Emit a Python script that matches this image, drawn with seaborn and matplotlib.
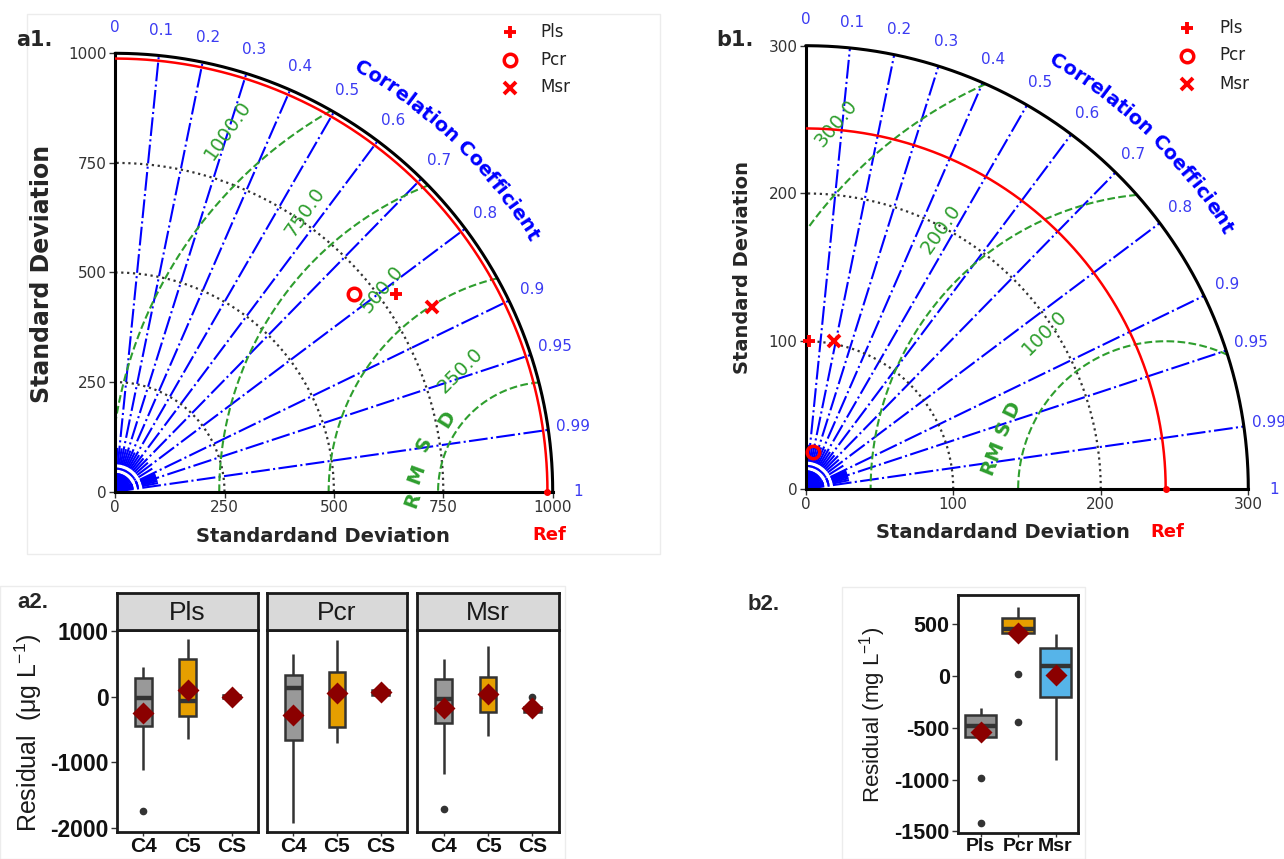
import numpy as np
import pandas as pd
import matplotlib
matplotlib.use("Agg")
import matplotlib.pyplot as plt
import seaborn as sns
from matplotlib.textpath import text_to_path
from matplotlib.font_manager import FontProperties
from matplotlib.patches import Rectangle

sns.set_theme(style="white")
plt.rcParams["font.family"] = ["DejaVu Sans"]
plt.rcParams["mathtext.default"] = "regular"

W, H, DPI = 1284, 859, 100

# ---------------- data ----------------
models = ["Pls", "Pcr", "Msr"]
model_markers = ["+", "o", "x"]

corr_ticks = [0.1, 0.2, 0.3, 0.4, 0.5, 0.6, 0.7, 0.8, 0.9, 0.95, 0.99]
corr_labels_vals = [0, 0.1, 0.2, 0.3, 0.4, 0.5, 0.6, 0.7, 0.8, 0.9, 0.95, 0.99, 1]
corr_labels_txt = ["0", "0.1", "0.2", "0.3", "0.4", "0.5", "0.6", "0.7", "0.8", "0.9", "0.95", "0.99", "1"]
corr_minor = [0.05, 0.15, 0.25, 0.35, 0.45, 0.55, 0.65, 0.75, 0.85, 0.91, 0.92, 0.93, 0.94, 0.96, 0.97, 0.98]

# a1 Taylor diagram
a1_max = 1000
a1_ref = 988
a1_std_ticks = [0, 250, 500, 750, 1000]
a1_std_arcs = [250, 500, 750]
a1_rmsd_levels = [250, 500, 750, 1000]
a1_rmsd_text = ["250.0", "500.0", "750.0", "1000.0"]
a1_rmsd_x = [788, 610, 433, 258]
a1_rmsd_y = [277, 461, 637, 824]
a1_rmsd_rot = [45, 50, 55, 55]
a1_std = [785, 707, 839]
a1_corr = [0.819, 0.771, 0.864]

# b1 Taylor diagram
b1_max = 300
b1_ref = 244
b1_std_ticks = [0, 100, 200, 300]
b1_std_arcs = [100, 200]
b1_rmsd_levels = [100, 200, 300]
b1_rmsd_text = ["100.0", "200.0", "300.0"]
b1_rmsd_x = [162, 91.5, 20.7]
b1_rmsd_y = [106, 176, 247.7]
b1_rmsd_rot = [45, 55, 50]
b1_std = [100, 25.5, 102]
b1_corr = [0.02, 0.196, 0.19]

# a2 residual boxplots (µg/L): per panel, per group C4, C5, CS
a2_panels = ["Pls", "Pcr", "Msr"]
a2_groups = ["C4", "C5", "CS"]
a2_colors = ["#999999", "#E69F00", "#56B4E9"]
a2_q1 = {"Pls": [-442, -294, -25], "Pcr": [-660, -457, 20], "Msr": [-406, -239, -228]}
a2_med = {"Pls": [-25, -61, 0], "Pcr": [127, 40, 60], "Msr": [-36, 0, -188]}
a2_q3 = {"Pls": [279, 569, 25], "Pcr": [330, 371, 95], "Msr": [264, 305, -152]}
a2_wlo = {"Pls": [-1117, -650, -25], "Pcr": [-1929, -700, 20], "Msr": [-1178, -599, -228]}
a2_whi = {"Pls": [457, 873, 25], "Pcr": [650, 863, 95], "Msr": [569, 772, -152]}
a2_out = {"Pls": [[-1751], [], []], "Pcr": [[], [], []], "Msr": [[-1716], [], [0]]}
a2_mean = {"Pls": [-244, 102, -10], "Pcr": [-279, 50, 65], "Msr": [-178, 41, -178]}

# b2 residual boxplots (mg/L)
b2_groups = ["Pls", "Pcr", "Msr"]
b2_colors = ["#8f8f8f", "#E69F00", "#56B4E9"]
b2_q1 = [-585, 418, -199]
b2_med = [-482, 450, 96]
b2_q3 = [-376, 556, 267]
b2_wlo = [-585, 418, -810]
b2_whi = [-312, 669, 405]
b2_out = [[-981, -1421], [16, -447], []]
b2_mean = [-537, 412, 10]

GREEN = "#2e9e2e"
CBLUE = "#3b3bf2"

fig = plt.figure(figsize=(W / DPI, H / DPI), dpi=DPI)
fig.patch.set_facecolor("white")


def add_ax(x0, y0, x1, y1):
    return fig.add_axes([x0 / W, 1 - y1 / H, (x1 - x0) / W, (y1 - y0) / H])


# overlay in pixel coordinates for free text
ov = fig.add_axes([0, 0, 1, 1])
ov.set_xlim(0, W)
ov.set_ylim(H, 0)
ov.axis("off")
ov.set_zorder(10)
for (x0, y0, x1, y1) in [(27, 14, 660, 554), (0, 586, 565, 859), (842, 587, 1085, 859)]:
    ov.add_patch(Rectangle((x0, y0), x1 - x0, y1 - y0, fill=False, ec="#ececec", lw=1))


def arc_text(ax, text, smax, px_per_unit, r_frac, center_deg, fs, color):
    prop = FontProperties(family="DejaVu Sans", weight="bold", size=fs)
    widths = []
    for ch in text:
        if ch == " ":
            w = (text_to_path.get_text_width_height_descent("a a", prop, ismath=False)[0]
                 - text_to_path.get_text_width_height_descent("aa", prop, ismath=False)[0])
        else:
            w = text_to_path.get_text_width_height_descent(ch, prop, ismath=False)[0]
        widths.append(w * DPI / 72)
    R_px = r_frac * smax * px_per_unit
    total = sum(widths)
    start = np.deg2rad(center_deg) + total / R_px / 2
    cum = 0
    for ch, w in zip(text, widths):
        a = start - (cum + w / 2) / R_px
        cum += w
        if ch == " ":
            continue
        ax.text(r_frac * smax * np.cos(a), r_frac * smax * np.sin(a), ch,
                rotation=np.rad2deg(a) - 90, rotation_mode="anchor",
                ha="center", va="baseline", fontproperties=prop, color=color,
                clip_on=False)


def taylor(box, smax, ref, std_ticks, std_arcs, levels, lbl_txt, lbl_x, lbl_y, lbl_rot,
           stds, corrs, rmsd_letters, letter_fs):
    ax = add_ax(*box)
    px_per_unit = (box[2] - box[0]) / smax
    ax.set_xlim(0, smax)
    ax.set_ylim(0, smax)
    ax.set_facecolor("none")
    for s in ["top", "right"]:
        ax.spines[s].set_visible(False)
    for s in ["left", "bottom"]:
        ax.spines[s].set_color("black")
        ax.spines[s].set_linewidth(2.2)
    ax.set_xticks(std_ticks)
    ax.set_yticks(std_ticks)
    ax.set_xticklabels([str(t) for t in std_ticks])
    ax.set_yticklabels([str(t) for t in std_ticks])
    ax.tick_params(direction="out", length=4, width=1, colors="#333333", labelsize=11,
                   pad=2, left=True, bottom=True)
    th = np.linspace(0, np.pi / 2, 500)
    # correlation lines
    for c in corr_ticks:
        t = np.arccos(c)
        ax.plot([0, smax * np.cos(t)], [0, smax * np.sin(t)], color="blue", lw=1.5,
                dashes=[9, 1.6, 1, 1.6], zorder=2)
    for c in corr_minor:
        t = np.arccos(c)
        ax.plot([0, 0.1 * smax * np.cos(t)], [0, 0.1 * smax * np.sin(t)], color="blue",
                lw=1.5, dashes=[9, 1.6, 1, 1.6], zorder=2)
    # std dotted arcs
    for s in std_arcs:
        ax.plot(s * np.cos(th), s * np.sin(th), color="#333333", ls=":", lw=1.6, zorder=2)
    # RMSD arcs
    for L in levels:
        phi = np.linspace(0, np.pi, 3000)
        x = ref + L * np.cos(phi)
        y = L * np.sin(phi)
        m = (x ** 2 + y ** 2 <= smax ** 2) & (x >= 0)
        ax.plot(x[m], y[m], color=GREEN, ls="--", lw=1.5, zorder=2)
    for t_, x_, y_, r_ in zip(lbl_txt, lbl_x, lbl_y, lbl_rot):
        ax.text(x_, y_, t_, color=GREEN, fontsize=14, rotation=r_, ha="center", va="center",
                zorder=3)
    for ch, x_, y_, r_ in rmsd_letters:
        ax.text(x_, y_, ch, color=GREEN, fontsize=letter_fs, fontweight="bold", rotation=r_,
                ha="center", va="center", clip_on=False, zorder=3)
    # ref and outer arcs
    ax.plot(ref * np.cos(th), ref * np.sin(th), color="red", lw=1.8, zorder=4)
    ax.plot(smax * np.cos(th), smax * np.sin(th), color="black", lw=2.2, zorder=4,
            clip_on=False)
    ax.plot([ref], [0], "o", color="red", ms=4, zorder=5, clip_on=False)
    # correlation labels
    for v, s in zip(corr_labels_vals, corr_labels_txt):
        t = np.arccos(v)
        ax.text(1.058 * smax * np.cos(t), 1.058 * smax * np.sin(t), s, color=CBLUE,
                fontsize=11, ha="center", va="center", clip_on=False)
    arc_text(ax, "Correlation Coefficient", smax, px_per_unit, 1.105, 45.8, 14, "blue")
    # model points
    for mk, s, c in zip(model_markers, stds, corrs):
        x, y = s * c, s * np.sqrt(1 - c ** 2)
        if mk == "o":
            ax.plot(x, y, "o", mfc="none", mec="red", mew=2.5, ms=9, zorder=6, clip_on=False)
        else:
            ax.plot(x, y, mk, color="red", mew=2.8, ms=8, zorder=6, clip_on=False)
    return ax


a1 = taylor((115.1, 53.3, 552.7, 491.7), a1_max, a1_ref, a1_std_ticks, a1_std_arcs,
            a1_rmsd_levels, a1_rmsd_text, a1_rmsd_x, a1_rmsd_y, a1_rmsd_rot,
            a1_std, a1_corr,
            [("R", 681, -19, 70), ("M", 689, 40, 70), ("S", 706, 109, 62), ("D", 758, 166, 58)], 14)
b1 = taylor((805.7, 45.7, 1248.3, 489.0), b1_max, b1_ref, b1_std_ticks, b1_std_arcs,
            b1_rmsd_levels, b1_rmsd_text, b1_rmsd_x, b1_rmsd_y, b1_rmsd_rot,
            b1_std, b1_corr,
            [("R", 124, 15, 68), ("M", 128, 26, 68), ("S", 134, 41, 66), ("D", 139.5, 54, 64)], 14)

# free texts for Taylor diagrams
ov.text(16, 40, "a1.", fontsize=15, fontweight="bold", ha="left", va="center")
ov.text(716, 40, "b1.", fontsize=15, fontweight="bold", ha="left", va="center")
ov.text(42, 274, "Standard Deviation", fontsize=17, fontweight="bold", rotation=90,
        ha="center", va="center")
ov.text(743, 268, "Standard Deviation", fontsize=14, fontweight="bold", rotation=90,
        ha="center", va="center")
ov.text(323, 537, "Standardand Deviation", fontsize=14, fontweight="bold", ha="center", va="center")
ov.text(1003, 532, "Standardand Deviation", fontsize=14, fontweight="bold", ha="center", va="center")
ov.text(549, 535, "Ref", fontsize=13, fontweight="bold", color="red", ha="center", va="center")
ov.text(1167, 532, "Ref", fontsize=13, fontweight="bold", color="red", ha="center", va="center")
for (mx, tx, ys) in [(510, 540, [32, 60, 87.5]), (1187, 1219, [28, 55.5, 84])]:
    for mk, lab, yy in zip(model_markers, models, ys):
        if mk == "o":
            ov.plot(mx, yy, "o", mfc="none", mec="red", mew=2.5, ms=9)
        else:
            ov.plot(mx, yy, mk, color="red", mew=2.8, ms=8)
        ov.text(tx, yy, lab, fontsize=12, ha="left", va="center", color="#222222")


# ---------------- ggplot-like boxplots ----------------
def build(outs, wlo, q1, med, q3, whi):
    return list(outs) + [wlo] + [q1] * 5 + [med] * 5 + [q3] * 5 + [whi]


ARIAL = "Liberation Sans"


def gg_box(ax, cats, colors, width, q1, med, q3, wlo, whi, outs, means, ylim, yticks,
           show_y, fs_tick, fs_xtick):
    rows = []
    for i, c in enumerate(cats):
        for v in build(outs[i], wlo[i], q1[i], med[i], q3[i], whi[i]):
            rows.append((c, v))
    df = pd.DataFrame(rows, columns=["grp", "val"])
    sns.boxplot(data=df, x="grp", y="val", hue="grp", order=cats, hue_order=cats,
                palette=colors, saturation=1, width=width, linewidth=1.8, linecolor="#333333",
                showcaps=False, fliersize=4.5, legend=False,
                flierprops=dict(marker="o", markerfacecolor="#333333", markeredgecolor="#333333"),
                medianprops=dict(linewidth=3.2, color="#333333"), ax=ax)
    sns.pointplot(x=cats, y=means, order=cats, color="#8B0000", marker="D", linestyle="none",
                  markersize=9, errorbar=None, ax=ax, zorder=6)
    ax.set_xlim(-0.6, 2.6)
    ax.set_ylim(*ylim)
    ax.set_xlabel("")
    ax.set_ylabel("")
    ax.set_facecolor("white")
    for s in ax.spines.values():
        s.set_visible(True)
        s.set_color("#1a1a1a")
        s.set_linewidth(2)
    ax.set_xticks(range(len(cats)))
    ax.set_xticklabels(cats, fontsize=fs_xtick, fontweight="bold", family=ARIAL, color="#111111")
    ax.set_yticks(yticks)
    ax.set_yticklabels([str(t) for t in yticks], fontsize=fs_tick, fontweight="bold",
                       family=ARIAL, color="#111111")
    ax.tick_params(axis="y", direction="out", length=4, width=1, colors="#333333",
                   left=show_y, labelleft=show_y, pad=2)
    ax.tick_params(axis="x", direction="out", length=3, width=1, colors="#333333",
                   bottom=True, pad=0.5)
    for lab in ax.get_xticklabels() + ax.get_yticklabels():
        lab.set_color("#111111")
    ax.grid(False)


panel_x = [(117, 258), (267, 407), (417, 559)]
for i, p in enumerate(a2_panels):
    x0, x1 = panel_x[i]
    ax = add_ax(x0, 630, x1, 831.7)
    gg_box(ax, a2_groups, a2_colors, 0.38, a2_q1[p], a2_med[p], a2_q3[p], a2_wlo[p],
           a2_whi[p], a2_out[p], a2_mean[p], (-2061, 1018), [-2000, -1000, 0, 1000],
           i == 0, 16.5, 15)
    st = add_ax(x0, 593, x1, 630)
    st.set_facecolor("#D9D9D9")
    st.set_xticks([])
    st.set_yticks([])
    for s in st.spines.values():
        s.set_visible(True)
        s.set_color("#1a1a1a")
        s.set_linewidth(2)
    st.text(0.5, 0.45, p, transform=st.transAxes, ha="center", va="center", fontsize=19,
            family=ARIAL, color="#1a1a1a")

axb2 = add_ax(958, 595, 1078, 833)
gg_box(axb2, b2_groups, b2_colors, 0.85, b2_q1, b2_med, b2_q3, b2_wlo, b2_whi, b2_out,
       b2_mean, (-1515, 782), [-1500, -1000, -500, 0, 500], True, 15.5, 14)

ov.text(17, 602, "a2.", fontsize=16, fontweight="bold", family=ARIAL, ha="left", va="center")
ov.text(748, 605, "b2.", fontsize=16, fontweight="bold", family=ARIAL, ha="left", va="center")
ov.text(28, 733, "Residual  (μg L$^{-1}$)", fontsize=18, rotation=90, family=ARIAL,
        ha="center", va="center", color="#1a1a1a")
ov.text(873, 715, "Residual (mg L$^{-1}$)", fontsize=16, rotation=90, family=ARIAL,
        ha="center", va="center", color="#1a1a1a")

fig.savefig("out.png", dpi=DPI, facecolor="white")
